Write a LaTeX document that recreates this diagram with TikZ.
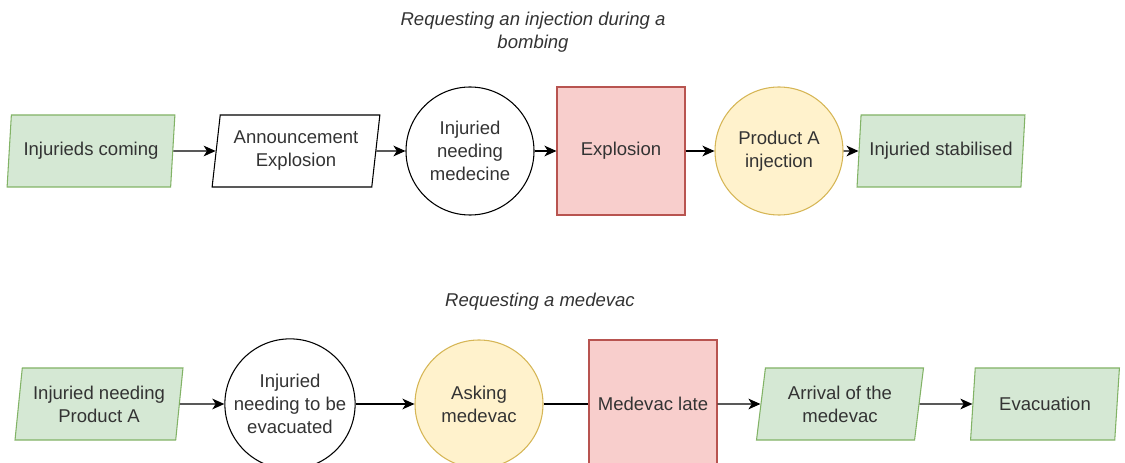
\documentclass[tikz,border=0pt]{standalone}
\usepackage{fontspec}
\setmainfont{Liberation Sans}
\usetikzlibrary{shapes.geometric,arrows.meta,positioning}

\definecolor{okfill}{HTML}{D5E8D4}
\definecolor{okline}{HTML}{82B366}
\definecolor{badfill}{HTML}{F8CECC}
\definecolor{badline}{HTML}{B85450}
\definecolor{actfill}{HTML}{FFF2CC}
\definecolor{actline}{HTML}{D6B656}
\definecolor{txt}{HTML}{333333}

\tikzset{
  lbl/.style={font=\fontsize{13.9}{17.2}\selectfont, text=txt, align=center},
  para/.style={lbl, trapezium, trapezium left angle=82, trapezium right angle=98,
    trapezium stretches=true, minimum width=126pt, minimum height=54pt, inner xsep=1pt, line width=0.8pt},
  ok/.style={para, draw=okline, fill=okfill},
  state/.style={lbl, circle, draw, line width=0.8pt, minimum size=96pt, inner sep=1pt},
  act/.style={state, draw=actline, fill=actfill},
  event/.style={lbl, rectangle, draw=badline, fill=badfill, line width=0.8pt, minimum size=96pt},
  flow/.style={line width=1.1pt, -{Stealth[length=9pt,width=8pt,inset=2.5pt]}},
  plain/.style={line width=1.1pt},
  title/.style={font=\fontsize{13.9}{17.2}\selectfont\itshape, text=txt, align=center}
}

\begin{document}
\begin{tikzpicture}[x=0.75pt, y=-0.75pt]
    \useasboundingbox (0,0) rectangle (1125,463);
    \clip (0,0) rectangle (1125,463);

    % bombing
    \node (title1) [title] at (533,32) {Requesting an injection during a\\bombing};
    \node (coming) [ok] at (91,151) {Injurieds coming};
    \node (announce) [para, draw] at (296,151) {Announcement\\Explosion};
    \node (needmed) [state] at (470,151) {Injuried\\needing\\medecine};
    \node (explo) [event] at (621,151) {Explosion};
    \node (inject) [act] at (779,151) {Product A\\injection};
    \node (stab) [ok] at (941,151) {Injuried stabilised};

    \draw[flow] (coming) -- (announce);
    \draw[flow] (announce) -- (needmed);
    \draw[flow] (needmed) -- (explo);
    \draw[flow] (explo) -- (inject);
    \draw[flow] (inject) -- (stab);

    % medevac
    \node (title2) [title] at (540,302) {Requesting a medevac};
    \node (needprod) [ok] at (99,404) {Injuried needing\\Product A};
    \node (needevac) [state] at (290,404) {Injuried\\needing to be\\evacuated};
    \node (asking) [act] at (479,404) {Asking\\medevac};
    \node (late) [event] at (653,404) {Medevac late};
    \node (arrival) [ok] at (840,404) {Arrival of the\\medevac};
    \node (evac) [ok, minimum width=112pt] at (1045,404) {Evacuation};

    \draw[flow] (needprod) -- (needevac);
    \draw[flow] (needevac) -- (asking);
    \draw[plain] (asking) -- (late);
    \draw[flow] (late) -- (arrival);
    \draw[flow] (arrival) -- (evac);
\end{tikzpicture}
\end{document}
